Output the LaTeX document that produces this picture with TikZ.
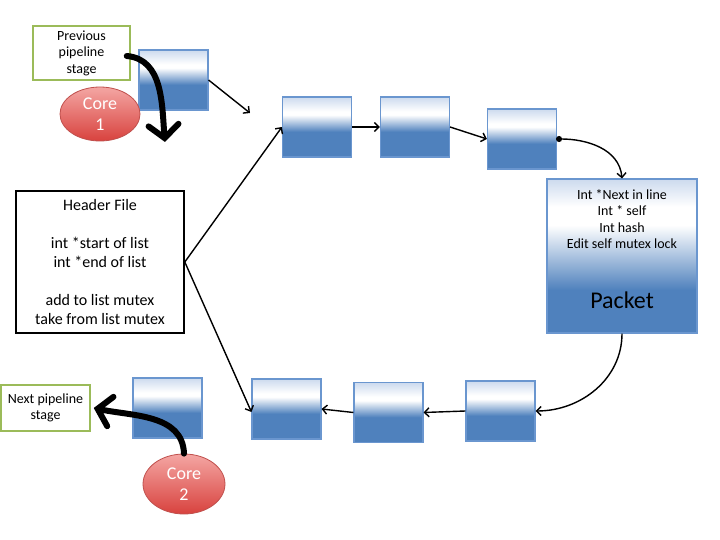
\documentclass[tikz,border=0pt]{standalone}
\usepackage{fontspec}
\setmainfont{Carlito}
\usetikzlibrary{arrows.meta,shapes.geometric}
\definecolor{blk}{HTML}{4F81BD}
\definecolor{blktop}{HTML}{CCDAEE}
\definecolor{blkedge}{HTML}{6A96CF}
\definecolor{grn}{HTML}{9BBB59}
\definecolor{redtop}{HTML}{F4A6A3}
\definecolor{redbot}{HTML}{D8423E}
\definecolor{rededge}{HTML}{C0504D}
\pgfdeclareverticalshading{blockshade}{100bp}{color(0bp)=(blk); color(25bp)=(blk); color(46bp)=(blk); color(60bp)=(white); color(63bp)=(white); color(75bp)=(blktop); color(100bp)=(blktop)}
\pgfdeclareverticalshading{packetshade}{100bp}{color(0bp)=(blk); color(25bp)=(blk); color(39bp)=(blk); color(60bp)=(white); color(66bp)=(white); color(75bp)=(blktop); color(100bp)=(blktop)}
\tikzset{
  blockbox/.style={draw=blkedge, line width=1.1pt, shading=blockshade, minimum width=69pt, minimum height=60pt, inner sep=0pt},
  packetbox/.style={draw=blkedge, line width=1.1pt, shading=packetshade, minimum width=150pt, minimum height=154pt, inner sep=0pt},
  stagebox/.style={draw=grn, line width=1.5pt, fill=white, inner sep=0pt, align=center, font=\fontsize{14}{16.5}\selectfont},
  corenode/.style={ellipse, draw=rededge, line width=0.8pt, top color=redtop, bottom color=redbot, inner sep=0pt, align=center, text=white, font=\fontsize{18}{20.5}\selectfont},
  thinarrow/.style={line width=1.4pt, -{Straight Barb[length=4.5pt,width=9pt]}},
  thickarrow/.style={line width=6pt, line cap=round, -{Straight Barb[length=13pt,width=30pt,line cap=round]}}
}
\begin{document}
\begin{tikzpicture}[x=1pt,y=-1pt]
\useasboundingbox (0,0) rectangle (720,540);
\fill[white] (0,0) rectangle (720,540);
% blocks
\node[blockbox] (A) at (173.5,80) {};
\node[blockbox] (B) at (317,127) {};
\node[blockbox] (C) at (415,127) {};
\node[blockbox] (D) at (522,139) {};
\node[blockbox] (E) at (167.5,408) {};
\node[blockbox] (F) at (286.5,409) {};
\node[blockbox] (H) at (388.5,412.5) {};
\node[blockbox] (G) at (500.5,411) {};
% packet
\node[packetbox] (P) at (622,256) {};
\node[align=center, font=\fontsize{14}{16.4}\selectfont] (Ptxt) at (622,219) {Int *Next in line\\Int * self\\Int hash\\Edit self mutex lock};
\node[font=\fontsize{24}{28}\selectfont] (Plbl) at (622,300) {Packet};
% header
\node[draw=black, line width=1.6pt, minimum width=168pt, minimum height=142pt, inner sep=0pt, align=center, font=\fontsize{16}{19}\selectfont] (Hdr) at (100,262)
  {Header File\\[19pt]int *start of list\\int *end of list\\[19pt]add to list mutex\\take from list mutex};
% stages
\node[stagebox, minimum width=97pt, minimum height=54pt] (Prev) at (81.5,53) {Previous\\pipeline\\stage};
\node[stagebox, minimum width=89pt, minimum height=46pt] (Next) at (45.5,408) {Next pipeline\\stage};
% cores
\node[corenode, minimum width=80pt, minimum height=54pt] (C1) at (100,114) {Core\\1};
\node[corenode, minimum width=82pt, minimum height=60pt] (C2) at (184,484) {Core\\2};
% connectors
\coordinate (Aend) at (250,113);
\draw[thinarrow] (A.east) -- (Aend);
\draw[thinarrow] (B.east) -- (C.west);
\draw[thinarrow] (C.east) -- (D.west);
\draw[line width=1.4pt, {Circle[length=6pt]}-{Straight Barb[length=4.5pt,width=9pt]}] ([xshift=-1pt]D.east) to[out=0,in=95] (P.north);
\draw[thinarrow] (P.south) to[out=-90,in=0] (G.east);
\draw[thinarrow] (G.west) -- (H.east);
\draw[thinarrow] (H.west) -- (F.east);
\draw[thinarrow] (Hdr.east) -- (B.west);
\draw[thinarrow] (Hdr.east) -- ([yshift=-3pt]F.west);
\draw[thickarrow] ([xshift=-4pt,yshift=-3pt]Prev.east) to[out=-5,in=95] (165,142);
\draw[thickarrow] (C2.north) to[out=92,in=-12] ([xshift=3pt]Next.east);
\end{tikzpicture}
\end{document}
